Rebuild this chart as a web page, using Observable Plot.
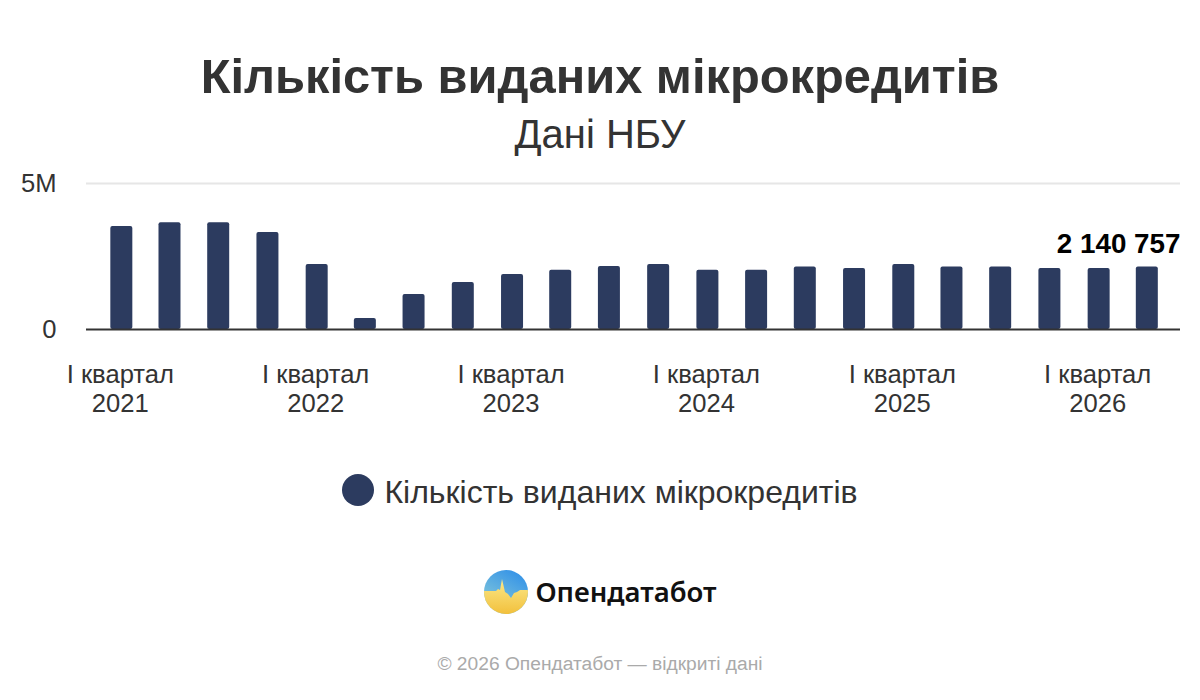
<!DOCTYPE html>
<html lang="uk">
<head>
<meta charset="utf-8">
<script src="https://cdn.jsdelivr.net/npm/d3@7"></script>
<script src="https://cdn.jsdelivr.net/npm/@observablehq/plot@0.6"></script>
<style>
html,body{margin:0;padding:0;background:#fff;width:1200px;height:700px;overflow:hidden;font-family:"Liberation Sans",Arial,sans-serif;color:#333}
.abs{position:absolute;left:0;width:1200px;text-align:center;white-space:nowrap}
#title{top:47px;font-size:48.8px;line-height:58px;font-weight:700}
#subtitle{top:110px;font-size:40px;line-height:48px}
#chart{position:absolute;left:0;top:160px}
#chart svg{display:block}
#legend{top:472px;font-size:32px;line-height:40px;display:flex;justify-content:center;align-items:center;gap:10px}
#legend i{display:block;width:32px;height:32px;border-radius:50%;background:#2c3b5f;transform:translateY(-2px)}
#logo{top:569px;display:flex;justify-content:center;align-items:center;gap:6px}
#logo b{font-family:"Noto Sans",sans-serif;font-size:27.5px;line-height:46px;color:#111;font-weight:600}
#footer{top:653px;font-size:19.2px;line-height:22px;color:#aaa}
</style>
</head>
<body>
<div id="title" class="abs">Кількість виданих мікрокредитів</div>
<div id="subtitle" class="abs">Дані НБУ</div>
<div id="chart"></div>
<div id="legend" class="abs"><i></i><span>Кількість виданих мікрокредитів</span></div>
<div id="logo" class="abs">
<svg width="46" height="46" viewBox="0 0 46 46">
<defs>
<linearGradient id="sky" x1="0.8" y1="0" x2="0.2" y2="1"><stop offset="0" stop-color="#2f8fe8"/><stop offset="1" stop-color="#8fd0d8"/></linearGradient>
<linearGradient id="sun" x1="0" y1="0" x2="0" y2="1"><stop offset="0" stop-color="#fbe98a"/><stop offset="1" stop-color="#f2bf3a"/></linearGradient>
<clipPath id="disc"><circle cx="23" cy="23" r="22"/></clipPath>
</defs>
<g clip-path="url(#disc)">
<rect width="46" height="46" fill="url(#sky)"/>
<path d="M0 22 H13 L15 20 L17 21 L19 10 L22 23 L25 25 L28 29 L31 24 L34 23 L37 21 H46 V46 H0 Z" fill="url(#sun)"/>
</g>
</svg>
<b>Опендатабот</b>
</div>
<div id="footer" class="abs">© 2026 Опендатабот — відкриті дані</div>
<script>
const quarters = ["2021-01-01","2021-04-01","2021-07-01","2021-10-01","2022-01-01","2022-04-01","2022-07-01","2022-10-01","2023-01-01","2023-04-01","2023-07-01","2023-10-01","2024-01-01","2024-04-01","2024-07-01","2024-10-01","2025-01-01","2025-04-01","2025-07-01","2025-10-01","2026-01-01","2026-04-01"];
const counts = [3530000,3660000,3660000,3320000,2230000,380000,1200000,1610000,1880000,2030000,2160000,2230000,2030000,2030000,2140000,2090000,2230000,2140000,2140000,2090000,2090000,2140757];
const yearTicks = ["2021","2022","2023","2024","2025","2026"];
const xDomain = ["2020-10-27","2026-06-02"];
const yTicks = [0,5000000];
const yLabels = ["0","5M"];
const lastLabel = "2 140 757";
const barColor = "#2c3b5f";

const rows = quarters.map((q,i)=>({date:new Date(q),value:counts[i]}));
const last = rows[rows.length-1];

const plot = Plot.plot({
  width:1200,height:259,marginTop:23,marginBottom:90,marginLeft:86,marginRight:20,
  style:{fontFamily:'"Liberation Sans",Arial,sans-serif',color:"#333",background:"transparent",overflow:"visible"},
  x:{type:"utc",domain:xDomain.map(d=>new Date(d))},
  y:{domain:[0,5000000],range:[169,23]},
  marks:[
    Plot.ruleY([5000000],{stroke:"#e6e6e6",strokeWidth:2}),
    Plot.rectY(rows,{x1:"date",x2:"date",y1:0,y2:"value",fill:barColor,insetLeft:-11,insetRight:-11,rx:2}),
    Plot.ruleY([0],{stroke:"#333",strokeWidth:2}),
    Plot.axisY({ticks:yTicks,tickSize:0,tickPadding:30,fontSize:25.6,fill:"#333",label:null,
      tickFormat:v=>yLabels[yTicks.indexOf(v)]}),
    Plot.axisX({ticks:yearTicks.map(y=>new Date(y+"-01-01")),tickSize:0,tickPadding:32.5,dx:-1.5,fontSize:25.6,fill:"#333",label:null,
      lineHeight:1.14,tickFormat:d=>"І квартал\n"+d.getUTCFullYear()}),
    Plot.text([last],{y:"value",frameAnchor:"right",textAnchor:"end",dy:-23,text:()=>lastLabel,fontSize:27.8,fontWeight:700,fill:"#000"})
  ]
});
document.getElementById("chart").append(plot);
</script>
</body>
</html>
